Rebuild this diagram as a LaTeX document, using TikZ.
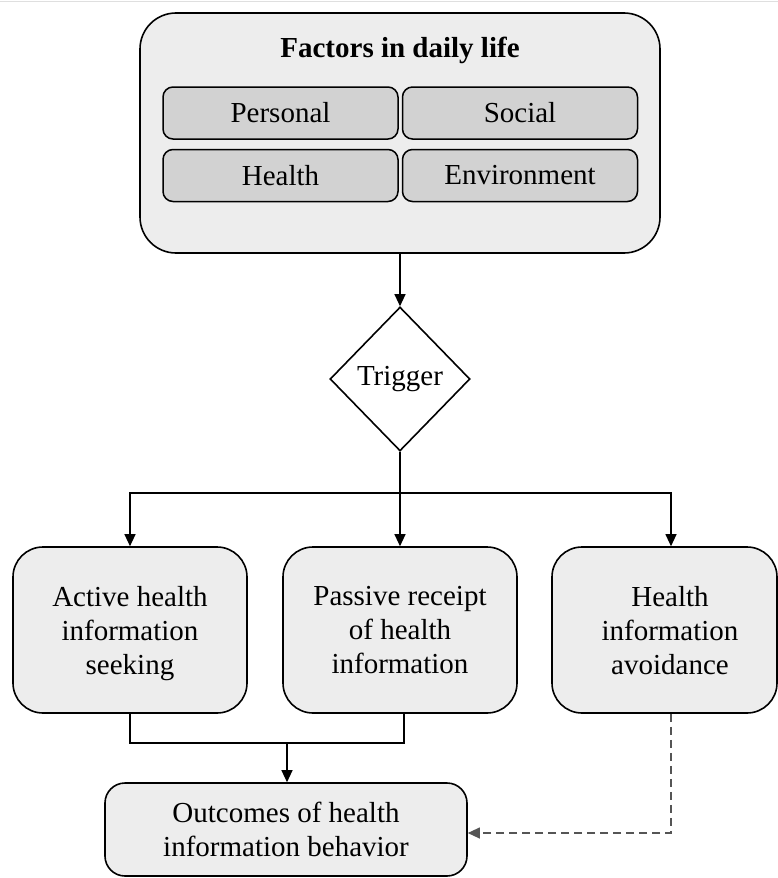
\documentclass[tikz,border=0pt]{standalone}
\usepackage{fontspec}
\setmainfont{Liberation Serif}
\usetikzlibrary{arrows.meta,shapes.geometric}
\definecolor{boxfill}{HTML}{EDEDED}
\definecolor{innerfill}{HTML}{D2D2D2}
\definecolor{dashgray}{HTML}{555555}
\newcommand\dfont{\fontsize{29}{34}\selectfont}
\begin{document}
\begin{tikzpicture}[x=1pt,y=-1pt,
  box/.style={draw,line width=1.6pt,fill=boxfill,rounded corners=30pt,minimum width=234pt,minimum height=166pt,align=center,font=\dfont,inner sep=0pt,text depth=0pt},
  innerbox/.style={draw,line width=1.5pt,fill=innerfill,rounded corners=10pt,minimum width=235pt,minimum height=52pt,font=\dfont,inner sep=0pt},
  lbl/.style={align=center,font=\dfont,inner sep=0pt},
  arr/.style={line width=1.1pt,-{Triangle[length=12pt,width=11pt]}},
  ln/.style={line width=1.1pt}]
\useasboundingbox (0,0) rectangle (778,878);
\draw[gray!25,line width=1pt] (0,1.5) -- (778,1.5);
% top group
\node[box,rounded corners=36pt,minimum width=520pt,minimum height=240pt] (factors) at (400,133) {};
\node[lbl,font=\dfont\bfseries] (title) at (400,50) {Factors in daily life};
\node[innerbox] (personal) at (280.5,113) {Personal};
\node[innerbox] (social) at (520,113) {Social};
\node[innerbox] (health) at (280.5,175.5) {Health};
\node[innerbox] (env) at (520,175.5) {Environment};
% trigger
\node[diamond,draw,line width=1.6pt,minimum width=140pt,minimum height=144pt,inner sep=0pt,font=\dfont] (trigger) at (400,379) {Trigger};
\draw[arr] (factors.south) -- (trigger.north);
% three behaviours
\node[box] (active) at (130,630) {Active health\\information\\seeking};
\node[box] (passive) at (400,630) {Passive receipt\\of health\\information};
\node[box,minimum width=225pt] (avoid) at (664.5,630) {};
\node[lbl] (avoidtext) at (670,631) {Health\\information\\avoidance};
\coordinate (bl) at (130,493);
\coordinate (brr) at (671,493);
\draw[arr] (trigger.south) |- (bl) -- (active.north);
\draw[arr] (trigger.south) |- (brr) -- (brr |- avoid.north);
\draw[arr] (trigger.south) -- (passive.north);
% outcomes
\node[box,rounded corners=20pt,minimum width=362pt,minimum height=93pt] (outcome) at (286,829.5) {Outcomes of health\\information behavior};
\coordinate (m1) at (130,743);
\coordinate (m2) at (404,743);
\coordinate (mid) at (287,743);
\draw[ln] (active.south) -- (m1) -- (m2) -- (m2 |- passive.south);
\draw[arr] (mid) -- (outcome.north -| mid);
\coordinate (dd) at (671,833);
\draw[arr,dashgray,dash pattern=on 8pt off 5pt] (dd |- avoid.south) -- (dd) -- (outcome.east |- dd);
\end{tikzpicture}
\end{document}
